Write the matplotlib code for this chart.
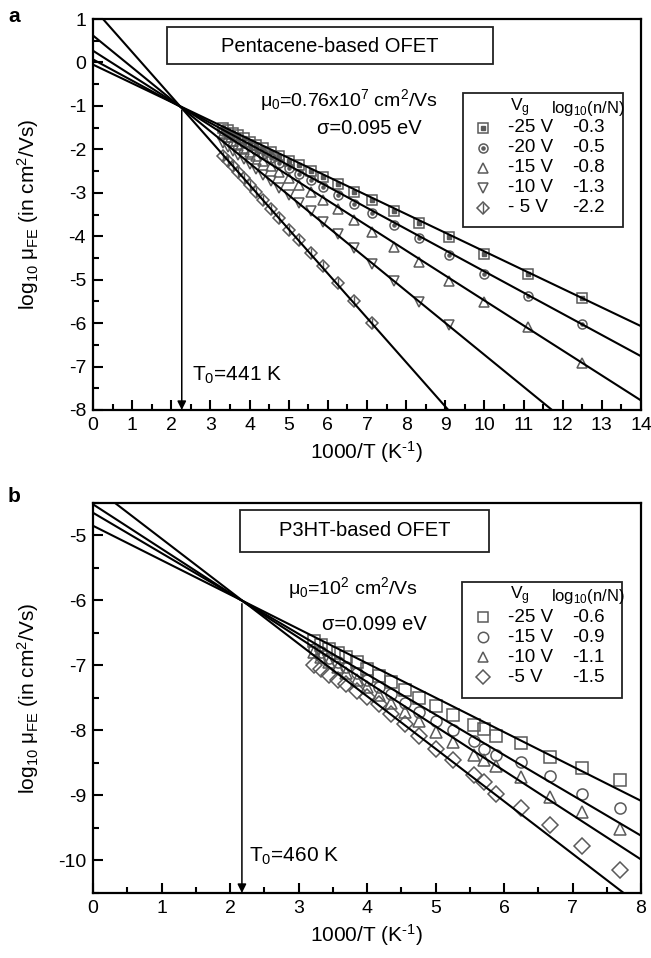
import numpy as np
import matplotlib
matplotlib.use("Agg")
import matplotlib.pyplot as plt
from matplotlib.patches import Rectangle
from matplotlib.ticker import MultipleLocator

plt.rcParams["font.family"] = ["Liberation Sans", "DejaVu Sans"]
plt.rcParams["mathtext.fontset"] = "custom"
plt.rcParams["mathtext.rm"] = "Liberation Sans"
plt.rcParams["mathtext.it"] = "Liberation Sans:italic"
plt.rcParams["mathtext.bf"] = "Liberation Sans:bold"
plt.rcParams["axes.unicode_minus"] = False

# panel a : pentacene OFET
a_vg = ["-25 V", "-20 V", "-15 V", "-10 V", "- 5 V"]
a_lognN = ["-0.3", "-0.5", "-0.8", "-1.3", "-2.2"]
a_x = [3.33, 3.45, 3.57, 3.70, 3.85, 4.00, 4.17, 4.35, 4.55, 4.76, 5.00, 5.26,
       5.56, 5.88, 6.25, 6.67, 7.14, 7.69, 8.33, 9.09, 10.0, 11.11, 12.5]
a_sq = [-1.50, -1.56, -1.62, -1.68, -1.75, -1.82, -1.89, -1.97, -2.06, -2.15, -2.26, -2.37,
        -2.50, -2.64, -2.80, -2.98, -3.17, -3.42, -3.69, -4.02, -4.40, -4.87, -5.42]
a_ci = [-1.58, -1.64, -1.70, -1.77, -1.85, -1.92, -2.01, -2.10, -2.20, -2.31, -2.43, -2.56,
        -2.71, -2.87, -3.05, -3.26, -3.47, -3.74, -4.05, -4.43, -4.86, -5.38, -6.03]
a_up = [-1.65, -1.72, -1.80, -1.88, -1.97, -2.06, -2.16, -2.27, -2.39, -2.52, -2.66, -2.81,
        -2.99, -3.17, -3.38, -3.62, -3.91, -4.25, -4.60, -5.02, -5.52, -6.10, -6.91]
a_dn = [-1.85, -1.94, -2.03, -2.12, -2.23, -2.34, -2.46, -2.59, -2.73, -2.88, -3.05, -3.23,
        -3.42, -3.68, -3.95, -4.26, -4.63, -5.02, -5.51, -6.05]
a_di = [-2.16, -2.27, -2.39, -2.52, -2.67, -2.82, -2.99, -3.17, -3.37, -3.59, -3.86, -4.09,
        -4.38, -4.68, -5.07, -5.48, -5.99]
a_fit_int = [-0.05, 0.07, 0.27, 0.62, 1.26]
a_fit_slope = [-0.43, -0.488, -0.575, -0.735, -1.02]
a_T0 = 441

# panel b : P3HT OFET
b_vg = ["-25 V", "-15 V", "-10 V", "-5 V"]
b_lognN = ["-0.6", "-0.9", "-1.1", "-1.5"]
b_x = [3.23, 3.33, 3.45, 3.57, 3.70, 3.85, 4.00, 4.17, 4.35, 4.55, 4.76, 5.00,
       5.26, 5.56, 5.71, 5.88, 6.25, 6.67, 7.14, 7.69]
b_sq = [-6.62, -6.68, -6.74, -6.81, -6.87, -6.95, -7.06, -7.16, -7.26, -7.38, -7.50, -7.62,
        -7.76, -7.92, -7.98, -8.08, -8.19, -8.41, -8.57, -8.76]
b_ci = [-6.74, -6.80, -6.88, -6.95, -7.03, -7.12, -7.22, -7.33, -7.44, -7.57, -7.71, -7.85,
        -8.00, -8.16, -8.28, -8.37, -8.49, -8.70, -8.98, -9.20]
b_up = [-6.80, -6.87, -6.95, -7.03, -7.12, -7.22, -7.33, -7.45, -7.57, -7.71, -7.86, -8.02,
        -8.17, -8.38, -8.45, -8.55, -8.71, -9.02, -9.25, -9.51]
b_di = [-7.00, -7.06, -7.14, -7.22, -7.29, -7.39, -7.48, -7.60, -7.74, -7.90, -8.08, -8.29,
        -8.45, -8.68, -8.80, -8.98, -9.19, -9.46, -9.77, -10.14]
b_fit_int = [-4.85, -4.65, -4.52, -4.24]
b_fit_slope = [-0.529, -0.621, -0.683, -0.808]
b_T0 = 460

W, H = 651, 958
fig = plt.figure(figsize=(W / 100, H / 100), dpi=100)


def F(x, y):
    # pixel position -> figure fraction
    return x / W, 1 - y / H


gray = "#5a5a5a"


def style_axes(ax, xmax, ymin, ymax):
    ax.set_xlim(0, xmax)
    ax.set_ylim(ymin, ymax)
    ax.xaxis.set_major_locator(MultipleLocator(1))
    ax.xaxis.set_minor_locator(MultipleLocator(0.5))
    ax.yaxis.set_major_locator(MultipleLocator(1))
    ax.yaxis.set_minor_locator(MultipleLocator(0.5))
    ax.tick_params(which="both", direction="in", top=False, right=False, width=1.5, labelsize=14)
    ax.tick_params(which="major", length=7, pad=5)
    ax.tick_params(which="minor", length=4)
    for s in ax.spines.values():
        s.set_linewidth(1.6)
    ax.set_xlabel(r"1000/T (K$^{\text{-1}}$)", fontsize=15, labelpad=4)
    ax.set_ylabel(r"log$_{10}$ μ$_{\mathregular{FE}}$ (in cm$^2$/Vs)", fontsize=15)
    ax.yaxis.set_label_coords(-(93 - 41) / 548, 0.5)


def draw_panel(ax, xs, ys, markers, ints, slopes, xmax, ms, extra):
    xx = np.linspace(0, xmax, 200)
    for y, m, e in zip(ys, markers, extra):
        x = xs[:len(y)]
        ax.plot(x, y, ls="none", marker=m, ms=ms, mfc="none", mec=gray, mew=1.1, zorder=2)
        if e:
            ax.plot(x, y, ls="none", marker=e, ms=ms * 0.35 if e in ("s", "o") else ms,
                    mfc=gray, mec=gray, mew=1.0, zorder=2)
    for a, b in zip(ints, slopes):
        ax.plot(xx, a + b * xx, color="k", lw=1.5, zorder=3)


def draw_box(x0, y0, x1, y1, lw=1.3):
    fx0, fy1 = F(x0, y1)
    fx1, fy0 = F(x1, y0)
    fig.add_artist(Rectangle((fx0, fy1), fx1 - fx0, fy0 - fy1, fill=False,
                             lw=lw, ec="#222222", transform=fig.transFigure))


def draw_legend(ax, markers, extra, vgs, lognNs, box, y_head, y_rows, ms):
    draw_box(*box)
    fig.text(*F(510, y_head), r"V$_{\mathregular{g}}$", fontsize=12.5, va="center", ha="left")
    fig.text(*F(551, y_head), "log$_{10}$(n/N)", fontsize=12, va="center", ha="left")
    for i, (m, e, vg, ln) in enumerate(zip(markers, extra, vgs, lognNs)):
        yy = y_rows[0] + i * y_rows[1]
        mx, my = F(483, yy)
        ax.plot([mx], [my], ls="none", marker=m, ms=ms, mfc="none", mec=gray, mew=1.1,
                transform=fig.transFigure, clip_on=False)
        if e:
            ax.plot([mx], [my], ls="none", marker=e, ms=ms * 0.35 if e in ("s", "o") else ms,
                    mfc=gray, mec=gray, mew=1.0, transform=fig.transFigure, clip_on=False)
        fig.text(*F(508, yy), vg, fontsize=13.5, va="center", ha="left")
        fig.text(*F(572, yy), ln, fontsize=13.5, va="center", ha="left")


# ---------------- panel a ----------------
ax_a = fig.add_axes([93 / W, 1 - 410 / H, 548 / W, 391 / H])
style_axes(ax_a, 14, -8, 1)
a_markers = ["s", "o", "^", "v", "D"]
a_extra = ["s", "o", None, None, "|"]
draw_panel(ax_a, a_x, [a_sq, a_ci, a_up, a_dn, a_di], a_markers, a_fit_int, a_fit_slope,
           14, 6.5, a_extra)
x0a = 1000 / a_T0
ax_a.annotate("", xy=(x0a, -8), xytext=(x0a, -1.1),
              arrowprops=dict(arrowstyle="-|>", color="k", lw=1.1, mutation_scale=13, shrinkA=0, shrinkB=0))
ax_a.text(x0a + 0.25, -7.2, "T$_0$=%d K" % a_T0, fontsize=15, va="center", ha="left")

draw_box(167, 27, 493, 64)
fig.text(*F(330, 46), "Pentacene-based OFET", fontsize=14.5, ha="center", va="center")
fig.text(*F(260, 100), "μ$_0$=0.76x10$^7$ cm$^2$/Vs", fontsize=14, ha="left", va="center")
fig.text(*F(317, 128), "σ=0.095 eV", fontsize=14.5, ha="left", va="center")
draw_legend(ax_a, a_markers, a_extra, a_vg, a_lognN, (463, 93, 623, 227), 108, (128, 20), 6.5)
fig.text(*F(14, 17), "a", fontsize=15, fontweight="bold", ha="center", va="center")

# ---------------- panel b ----------------
ax_b = fig.add_axes([93 / W, 1 - 893 / H, 548 / W, 390 / H])
style_axes(ax_b, 8, -10.5, -4.5)
b_markers = ["s", "o", "^", "D"]
b_extra = [None, None, None, None]
draw_panel(ax_b, b_x, [b_sq, b_ci, b_up, b_di], b_markers, b_fit_int, b_fit_slope,
           8, 8, b_extra)
x0b = 1000 / b_T0
ax_b.annotate("", xy=(x0b, -10.5), xytext=(x0b, -6.05),
              arrowprops=dict(arrowstyle="-|>", color="k", lw=1.1, mutation_scale=13, shrinkA=0, shrinkB=0))
ax_b.text(x0b + 0.1, -9.94, "T$_0$=%d K" % b_T0, fontsize=15, va="center", ha="left")

draw_box(240, 510, 489, 552)
fig.text(*F(364.5, 531), "P3HT-based OFET", fontsize=14.5, ha="center", va="center")
fig.text(*F(288, 588), "μ$_0$=10$^2$ cm$^2$/Vs", fontsize=14, ha="left", va="center")
fig.text(*F(322, 625), "σ=0.099 eV", fontsize=14.5, ha="left", va="center")
draw_legend(ax_b, b_markers, b_extra, b_vg, b_lognN, (462, 582, 622, 698), 596, (617, 20), 7.5)
fig.text(*F(14, 497), "b", fontsize=15, fontweight="bold", ha="center", va="center")

fig.savefig("out.png", dpi=100)
